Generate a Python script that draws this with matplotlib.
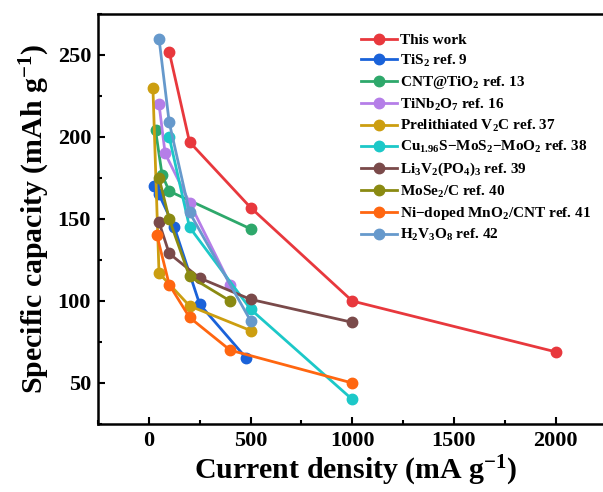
import matplotlib
matplotlib.use("Agg")
import matplotlib.pyplot as plt
from matplotlib.ticker import MultipleLocator

plt.rcParams["font.family"] = "Liberation Serif"
plt.rcParams["font.weight"] = "bold"
plt.rcParams["mathtext.fontset"] = "custom"
plt.rcParams["mathtext.rm"] = "Liberation Serif:bold"
plt.rcParams["mathtext.it"] = "Liberation Serif:bold:italic"
plt.rcParams["mathtext.bf"] = "Liberation Serif:bold"
plt.rcParams["mathtext.default"] = "rm"

# data
this_work_x = [100, 200, 500, 1000, 2000]
this_work_y = [252, 197, 157, 100, 69]
tis2_x = [25, 50, 125, 250, 480]
tis2_y = [170, 165, 145, 98, 65]
cnt_tio2_x = [33, 65, 100, 500]
cnt_tio2_y = [204, 177, 167, 144]
tinb2o7_x = [50, 80, 200, 400]
tinb2o7_y = [220, 190, 160, 110]
v2c_x = [20, 50, 200, 500]
v2c_y = [230, 117, 97, 82]
cu_mos2_x = [100, 200, 500, 1000]
cu_mos2_y = [200, 145, 95, 40]
lvp_x = [50, 100, 250, 500, 1000]
lvp_y = [148, 129, 114, 101, 87]
mose2_x = [50, 100, 200, 400]
mose2_y = [175, 150, 115, 100]
mno2_x = [40, 100, 200, 400, 1000]
mno2_y = [140, 110, 90, 70, 50]
h2v3o8_x = [50, 100, 200, 500]
h2v3o8_y = [260, 209, 154, 88]

series = [
    (this_work_x, this_work_y, "This work", "#e8383d"),
    (tis2_x, tis2_y, "TiS$_2$ ref. 9", "#1a62d9"),
    (cnt_tio2_x, cnt_tio2_y, "CNT@TiO$_2$ ref. 13", "#2ea86b"),
    (tinb2o7_x, tinb2o7_y, "TiNb$_2$O$_7$ ref. 16", "#b57ee8"),
    (v2c_x, v2c_y, "Prelithiated V$_2$C ref. 37", "#cc9e10"),
    (cu_mos2_x, cu_mos2_y, "Cu$_{1.96}$S\u2212MoS$_2$\u2212MoO$_2$ ref. 38", "#1cc8c8"),
    (lvp_x, lvp_y, "Li$_3$V$_2$(PO$_4$)$_3$ ref. 39", "#7a4a4a"),
    (mose2_x, mose2_y, "MoSe$_2$/C ref. 40", "#8a8a12"),
    (mno2_x, mno2_y, "Ni\u2212doped MnO$_2$/CNT ref. 41", "#ff6610"),
    (h2v3o8_x, h2v3o8_y, "H$_2$V$_3$O$_8$ ref. 42", "#6699cc"),
]

fig = plt.figure(figsize=(6.03, 4.92), dpi=100)
# right spine falls just outside the canvas, as in the source image
ax = fig.add_axes([98 / 603, 68 / 492, 514.6 / 603, 410 / 492])

for xs, ys, label, color in series:
    ax.plot(xs, ys, "-o", color=color, lw=2, ms=7.5, label=label)

ax.set_xlim(-250, 2280)
ax.set_ylim(25, 275)
ax.xaxis.set_major_locator(MultipleLocator(500))
ax.xaxis.set_minor_locator(MultipleLocator(250))
ax.yaxis.set_major_locator(MultipleLocator(50))
ax.yaxis.set_minor_locator(MultipleLocator(25))
ax.tick_params(which="both", direction="in", width=1.5, labelsize=16, pad=5)
ax.tick_params(which="major", length=5)
ax.tick_params(which="minor", length=3)
for s in ax.spines.values():
    s.set_linewidth(1.8)

ax.set_xlabel("Current density (mA g$^{-1}$)", fontsize=21.5, fontweight="bold", labelpad=2)
ax.set_ylabel("Specific capacity (mAh g$^{-1}$)", fontsize=21.5, fontweight="bold", labelpad=4)

ax.legend(loc="upper left", bbox_to_anchor=(0.5, 0.967), frameon=False,
          prop={"weight": "bold", "size": 11}, handlelength=2.3,
          handletextpad=0.25, labelspacing=0.35, borderaxespad=0)

fig.savefig("out.png", dpi=100)
